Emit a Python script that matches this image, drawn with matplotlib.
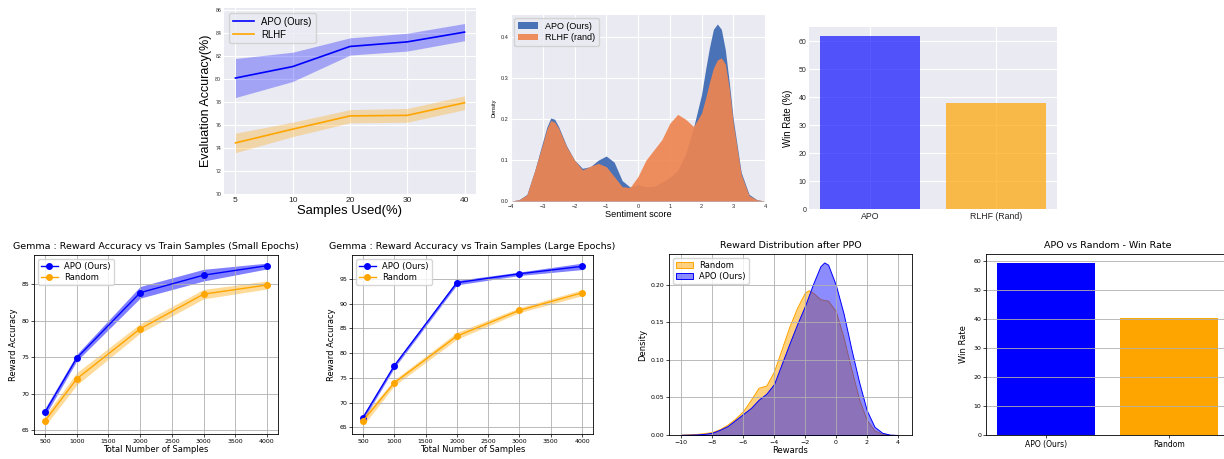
import matplotlib
matplotlib.use('Agg')
from matplotlib import pyplot as plt
from matplotlib.colors import to_rgba

W, H = 1224, 459

# top left: evaluation accuracy vs fraction of samples
used_labels = ['5', '10', '20', '30', '40']
apo_eval = [80.1, 81.1, 82.85, 83.25, 84.1]
apo_eval_lo = [78.4, 79.8, 82.1, 82.45, 83.35]
apo_eval_hi = [81.8, 82.35, 83.6, 84.0, 84.85]
rlhf_eval = [74.45, 75.65, 76.8, 76.85, 77.95]
rlhf_eval_lo = [73.6, 75.0, 76.2, 76.25, 77.35]
rlhf_eval_hi = [75.3, 76.25, 77.35, 77.45, 78.55]

# top middle: sentiment score density
sent_x = [-4, -3.75, -3.5, -3.25, -3, -2.875, -2.75, -2.625, -2.5, -2.25, -2, -1.75, -1.5, -1.25,
          -1, -0.75, -0.5, -0.25, 0, 0.25, 0.5, 0.75, 1, 1.25, 1.5, 1.75, 2, 2.125, 2.25, 2.375,
          2.5, 2.625, 2.75, 2.875, 3, 3.25, 3.5, 3.75, 4]
sent_apo = [0, 0.003, 0.016, 0.075, 0.145, 0.18, 0.203, 0.2, 0.182, 0.135, 0.1, 0.08, 0.084, 0.1,
            0.11, 0.095, 0.05, 0.034, 0.04, 0.035, 0.036, 0.046, 0.058, 0.075, 0.115, 0.18, 0.26,
            0.32, 0.375, 0.42, 0.433, 0.42, 0.37, 0.29, 0.2, 0.07, 0.016, 0.003, 0]
sent_rlhf = [0, 0.003, 0.015, 0.075, 0.14, 0.175, 0.197, 0.193, 0.178, 0.133, 0.1, 0.076, 0.085,
             0.092, 0.084, 0.06, 0.035, 0.033, 0.06, 0.1, 0.125, 0.15, 0.19, 0.212, 0.2, 0.182,
             0.215, 0.25, 0.29, 0.325, 0.345, 0.35, 0.335, 0.275, 0.19, 0.065, 0.013, 0.003, 0]

# top right: win rate
win_labels_top = ['APO', 'RLHF (Rand)']
win_top = [62, 38]

# bottom: gemma reward accuracy
samples = [500, 1000, 2000, 3000, 4000]
small_apo = [67.5, 74.9, 83.85, 86.25, 87.55]
small_apo_lo = [67.0, 74.5, 83.1, 85.45, 87.1]
small_apo_hi = [68.0, 75.4, 84.7, 87.05, 87.9]
small_rand = [66.3, 72.05, 78.9, 83.65, 84.9]
small_rand_lo = [65.6, 71.2, 78.3, 83.0, 84.35]
small_rand_hi = [67.0, 72.9, 79.6, 84.3, 85.45]

large_apo = [66.95, 77.45, 94.25, 96.05, 97.55]
large_apo_lo = [66.4, 77.0, 93.8, 95.7, 96.9]
large_apo_hi = [67.4, 77.8, 94.7, 96.4, 98.2]
large_rand = [66.3, 74.0, 83.45, 88.65, 92.2]
large_rand_lo = [65.3, 73.4, 82.8, 88.2, 91.6]
large_rand_hi = [67.2, 74.6, 84.2, 89.2, 92.8]

# bottom: reward distribution after PPO
reward_x = [-10, -9.5, -9, -8.5, -8, -7.5, -7, -6.5, -6, -5.5, -5, -4.5, -4, -3.5, -3, -2.5,
            -2, -1.75, -1.5, -1, -0.75, -0.5, 0, 0.5, 1, 1.5, 2, 2.5, 3, 3.5, 4]
reward_rand = [0.0005, 0.001, 0.0015, 0.0025, 0.004, 0.008, 0.014, 0.022, 0.032, 0.047, 0.063,
               0.066, 0.085, 0.115, 0.145, 0.17, 0.19, 0.193, 0.19, 0.181, 0.18, 0.179, 0.165,
               0.13, 0.088, 0.048, 0.02, 0.006, 0.0015, 0.0003, 0.0]
reward_apo = [0.0003, 0.0005, 0.0008, 0.0015, 0.003, 0.007, 0.012, 0.02, 0.028, 0.036, 0.047,
              0.055, 0.068, 0.095, 0.122, 0.148, 0.172, 0.186, 0.2, 0.225, 0.23, 0.227, 0.2,
              0.162, 0.115, 0.071, 0.033, 0.011, 0.003, 0.0005, 0.0]

win_labels = ['APO (Ours)', 'Random']
win_bottom = [59.5, 40.5]


def box(fig, left, top, right, bottom):
    return fig.add_axes([left / W, 1 - bottom / H, (right - left) / W, (bottom - top) / H])


def dark_style(ax, size):
    ax.set_facecolor('#EAEAF2')
    ax.grid(True, color='white', linewidth=0.8)
    ax.set_axisbelow(True)
    for s in ax.spines.values():
        s.set_visible(False)
    ax.tick_params(length=0, labelsize=size, colors='#262626', pad=2)


def light_style(ax):
    ax.grid(True, linewidth=0.6, color='#b0b0b0')
    for s in ax.spines.values():
        s.set_linewidth(0.6)
    ax.tick_params(labelsize=4.5, length=2, width=0.5, pad=1.5)


def draw_eval(ax):
    pos = range(len(used_labels))
    ax.fill_between(pos, apo_eval_lo, apo_eval_hi, color='blue', alpha=0.3, lw=0)
    ax.plot(pos, apo_eval, color='blue', lw=1.2, label='APO (Ours)')
    ax.fill_between(pos, rlhf_eval_lo, rlhf_eval_hi, color='orange', alpha=0.3, lw=0)
    ax.plot(pos, rlhf_eval, color='orange', lw=1.2, label='RLHF')
    dark_style(ax, 3.8)
    ax.set_xticks(list(pos))
    ax.set_xticklabels(used_labels, fontsize=6)
    ax.set_xlim(-0.2, 4.2)
    ax.set_ylim(70, 86.2)
    ax.set_yticks(range(70, 87, 2))
    ax.set_xlabel('Samples Used(%)', fontsize=9.4, labelpad=1)
    ax.set_ylabel('Evaluation Accuracy(%)', fontsize=9, labelpad=2)
    ax.legend(loc='upper left', fontsize=6.9, facecolor='#EAEAF2', edgecolor='#cccccc',
              framealpha=0.8, handlelength=2.2, borderpad=0.4, labelspacing=0.3)


def draw_sentiment(ax):
    ax.fill_between(sent_x, sent_apo, color='#4a72b6', lw=0, label='APO (Ours)')
    ax.fill_between(sent_x, sent_rlhf, color='#ee8551', alpha=0.92, lw=0, label='RLHF (rand)')
    dark_style(ax, 4)
    ax.set_xlim(-4, 4)
    ax.set_ylim(0, 0.455)
    ax.set_yticks([0, 0.1, 0.2, 0.3, 0.4])
    ax.set_xlabel('Sentiment score', fontsize=6.6, labelpad=1)
    ax.set_ylabel('Density', fontsize=4, labelpad=3)
    ax.legend(loc='upper left', fontsize=6.5, facecolor='#EAEAF2', edgecolor='#cccccc',
              framealpha=0.8, handlelength=2.2, borderpad=0.4, labelspacing=0.3,
              borderaxespad=0.35)


def draw_win_top(ax):
    ax.bar(win_labels_top, win_top, color=[to_rgba('blue', 0.65), to_rgba('orange', 0.7)], width=0.8)
    dark_style(ax, 5)
    ax.tick_params(axis='x', labelsize=6.3)
    ax.set_ylabel('Win Rate (%)', fontsize=6.9, labelpad=4)


def draw_acc(ax, apo, apo_lo, apo_hi, rand, rand_lo, rand_hi, title):
    ax.plot(samples, apo, '-o', color='blue', lw=1, markersize=4, label='APO (Ours)')
    ax.fill_between(samples, apo_lo, apo_hi, color='blue', alpha=0.5, lw=0)
    ax.plot(samples, rand, '-o', color='orange', lw=1, markersize=4, label='Random')
    ax.fill_between(samples, rand_lo, rand_hi, color='orange', alpha=0.4, lw=0)
    light_style(ax)
    ax.set_xticks(range(500, 4001, 500))
    ax.set_title(title, fontsize=6.8, pad=4)
    ax.set_xlabel('Total Number of Samples', fontsize=6, labelpad=1)
    ax.set_ylabel('Reward Accuracy', fontsize=6, labelpad=2)
    ax.legend(loc='upper left', fontsize=6, handlelength=2, borderpad=0.35, labelspacing=0.25)


def draw_reward(ax):
    ax.fill_between(reward_x, reward_rand, facecolor=to_rgba('orange', 0.5), edgecolor='orange',
                    lw=0.7, label='Random')
    ax.fill_between(reward_x, reward_apo, facecolor=to_rgba('blue', 0.45), edgecolor='blue',
                    lw=0.7, label='APO (Ours)')
    light_style(ax)
    ax.set_xticks(range(-10, 5, 2))
    ax.set_xlim(-10.8, 4.93)
    ax.set_ylim(0, 0.2413)
    ax.set_yticks([0, 0.05, 0.1, 0.15, 0.2])
    ax.set_title('Reward Distribution after PPO', fontsize=6.8, pad=4)
    ax.set_xlabel('Rewards', fontsize=6, labelpad=1)
    ax.set_ylabel('Density', fontsize=6, labelpad=2)
    ax.legend(loc='upper left', fontsize=6, handlelength=2, borderpad=0.35, labelspacing=0.25)


def draw_win_bottom(ax):
    ax.bar(win_labels, win_bottom, color=['blue', 'orange'], width=0.8)
    light_style(ax)
    ax.grid(False)
    ax.grid(True, axis='y', linewidth=0.6, color='#b0b0b0')
    ax.tick_params(axis='x', labelsize=5.5)
    ax.set_title('APO vs Random - Win Rate', fontsize=6.8, pad=4)
    ax.set_ylabel('Win Rate', fontsize=6, labelpad=4)


def main():
    fig = plt.figure(figsize=(W / 100, H / 100), dpi=100)

    plt.rcParams['font.family'] = ['Liberation Sans', 'DejaVu Sans']
    draw_eval(box(fig, 224, 8, 476, 194))
    draw_sentiment(box(fig, 511, 15, 765, 201))
    draw_win_top(box(fig, 809, 27, 1057, 209))

    plt.rcParams['font.family'] = ['DejaVu Sans']
    draw_acc(box(fig, 34, 255, 278, 434), small_apo, small_apo_lo, small_apo_hi,
             small_rand, small_rand_lo, small_rand_hi,
             'Gemma : Reward Accuracy vs Train Samples (Small Epochs)')
    draw_acc(box(fig, 352, 255, 593, 434), large_apo, large_apo_lo, large_apo_hi,
             large_rand, large_rand_lo, large_rand_hi,
             'Gemma : Reward Accuracy vs Train Samples (Large Epochs)')
    draw_reward(box(fig, 669, 254, 912, 435))
    draw_win_bottom(box(fig, 986, 254, 1229, 435))

    fig.savefig('out.png', dpi=100)


if __name__ == '__main__':
    main()
